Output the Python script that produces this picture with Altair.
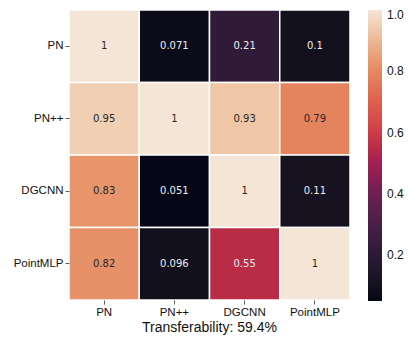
import altair as alt
import pandas as pd

models = ["PN", "PN++", "DGCNN", "PointMLP"]
values = [
    [1, 0.071, 0.21, 0.1],
    [0.95, 1, 0.93, 0.79],
    [0.83, 0.051, 1, 0.11],
    [0.82, 0.096, 0.55, 1],
]
labels = [
    ["1", "0.071", "0.21", "0.1"],
    ["0.95", "1", "0.93", "0.79"],
    ["0.83", "0.051", "1", "0.11"],
    ["0.82", "0.096", "0.55", "1"],
]
title_text = "Transferability: 59.4%"
legend_ticks = [0.2, 0.4, 0.6, 0.8, 1.0]

rows = []
for i, r in enumerate(models):
    for j, c in enumerate(models):
        rows.append({"row": r, "col": c, "v": values[i][j], "lab": labels[i][j]})
df = pd.DataFrame(rows)

# rocket-like colour ramp as seen in the reference colourbar
cmap_domain = [0.051, 0.1, 0.2, 0.3, 0.4, 0.5, 0.55, 0.6, 0.7, 0.79, 0.83, 0.93, 0.95, 1.0]
cmap_range = ["#050716", "#14111e", "#2c1a36", "#4a1e48", "#6e1f52", "#a21f52", "#b82c46",
              "#cf3c48", "#de5f4e", "#e4845f", "#e8956c", "#efc6a6", "#f0cfb3", "#f5e5d6"]

axis_common = dict(domain=False, ticks=True, tickSize=4, tickColor="#333", tickWidth=0.8,
                   labelFont="Liberation Sans", labelFontSize=11.5, labelColor="#111",
                   labelPadding=2)

base = alt.Chart(df).encode(
    x=alt.X("col:N", sort=models, title=None, axis=alt.Axis(labelAngle=0, **axis_common)),
    y=alt.Y("row:N", sort=models, title=None, axis=alt.Axis(**axis_common)),
)

rect = base.mark_rect(stroke="white", strokeWidth=1.5).encode(
    color=alt.Color("v:Q", title=None,
                    scale=alt.Scale(domain=cmap_domain, range=cmap_range, interpolate="rgb"),
                    legend=alt.Legend(values=legend_ticks, format=".1f", gradientLength=291,
                                      gradientThickness=14, gradientStrokeWidth=0,
                                      labelFont="Liberation Sans", labelFontSize=12,
                                      labelColor="#111", labelOffset=5, offset=18,
                                      padding=0))
)

text = base.mark_text(font="DejaVu Sans", fontSize=10).encode(
    text="lab:N",
    color=alt.condition(alt.datum.v >= 0.7, alt.value("#262626"), alt.value("#eeeeee")),
)

chart = (rect + text).properties(
    width=281, height=290,
    title=alt.TitleParams(title_text, orient="bottom", font="Liberation Sans", fontSize=14,
                          fontWeight="normal", color="#111", offset=3),
    padding={"left": 5, "top": 1, "right": 0, "bottom": 0},
).configure_view(stroke=None).configure_scale(bandPaddingInner=0, bandPaddingOuter=0)

chart.save("out.html", embed_options={"renderer": "svg", "actions": False})
